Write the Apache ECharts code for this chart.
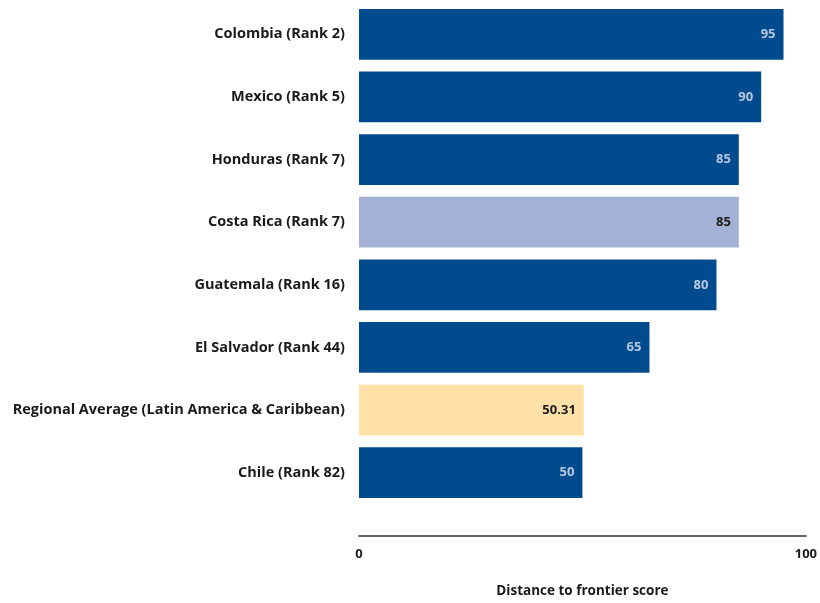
<!DOCTYPE html>
<html>
<head>
<meta charset="utf-8">
<script src="https://cdn.jsdelivr.net/npm/echarts@6/dist/echarts.min.js"></script>
<style>
  html, body { margin: 0; padding: 0; background: #fff; }
  #chart { width: 820px; height: 603px; }
</style>
</head>
<body>
<div id="chart"></div>
<script>
// data, top to bottom
var categories = [
  'Colombia (Rank 2)',
  'Mexico (Rank 5)',
  'Honduras (Rank 7)',
  'Costa Rica (Rank 7)',
  'Guatemala (Rank 16)',
  'El Salvador (Rank 44)',
  'Regional Average (Latin America & Caribbean)',
  'Chile (Rank 82)'
];
var scores = [95, 90, 85, 85, 80, 65, 50.31, 50];
// 0 = country, 1 = highlighted country, 2 = regional average
var kinds = [0, 0, 0, 1, 0, 0, 2, 0];
var xTicks = [0, 100];

var barColor = ['#004B8D', '#A3B1D4', '#FFE0A6'];
var labelColor = ['#B9C7E0', '#1a1a1a', '#1a1a1a'];
var font = 'Open Sans';

var chart = echarts.init(document.getElementById('chart'));
chart.setOption({
  animation: false,
  grid: { left: 359, right: 11, top: 3, bottom: 97, containLabel: false },
  xAxis: {
    type: 'value',
    min: xTicks[0],
    max: xTicks[1],
    interval: 100,
    offset: 32,
    name: 'Distance to frontier score',
    nameLocation: 'middle',
    nameGap: 48,
    nameTextStyle: { fontFamily: font, fontWeight: 'bold', fontSize: 13.5, color: '#1a1a1a' },
    axisLine: { show: true, lineStyle: { color: '#666', width: 2 } },
    axisTick: { show: false },
    splitLine: { show: false },
    axisLabel: { fontFamily: font, fontWeight: 'bold', fontSize: 13, color: '#1a1a1a', margin: 12 }
  },
  yAxis: {
    type: 'category',
    inverse: true,
    data: categories,
    axisLine: { show: false },
    axisTick: { show: false },
    axisLabel: { fontFamily: font, fontWeight: 'bold', fontSize: 14.5, color: '#1a1a1a', margin: 14 }
  },
  series: [{
    type: 'bar',
    barCategoryGap: '19%',
    data: scores.map(function (v, i) {
      return {
        value: v,
        itemStyle: { color: barColor[kinds[i]] },
        label: { color: labelColor[kinds[i]] }
      };
    }),
    label: {
      show: true,
      position: 'insideRight',
      distance: 8,
      fontFamily: font,
      fontWeight: 'bold',
      fontSize: 13
    }
  }]
});
</script>
</body>
</html>
